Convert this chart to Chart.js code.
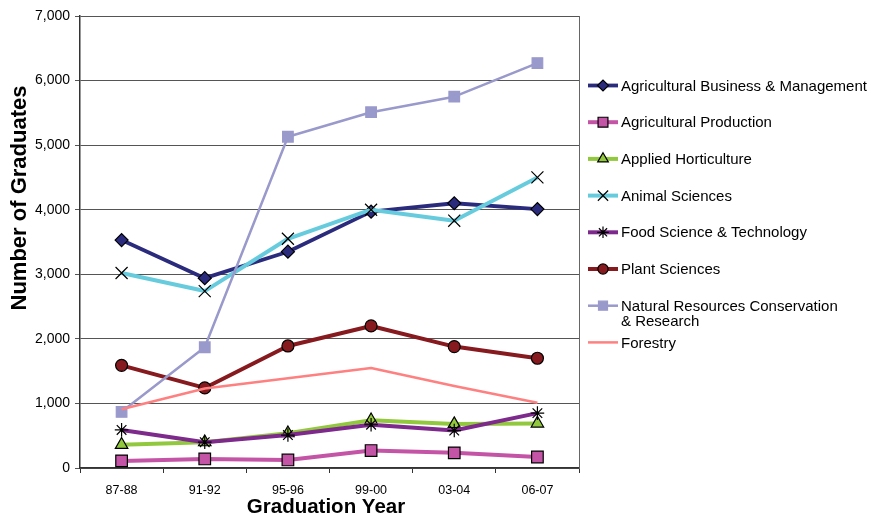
<!DOCTYPE html>
<html>
<head>
<meta charset="utf-8">
<script src="https://cdn.jsdelivr.net/npm/chart.js@4.4.1/dist/chart.umd.min.js"></script>
<style>
  html, body { margin: 0; padding: 0; background: #ffffff; }
  #wrap { width: 874px; height: 515px; }
</style>
</head>
<body>
<div id="wrap"><canvas id="c" width="874" height="515"></canvas></div>
<script>
// Graduates by program, per graduation year
const years = ['87-88', '91-92', '95-96', '99-00', '03-04', '06-07'];

const agBusiness     = [3530, 2940, 3350, 3970, 4100, 4010];
const agProduction   = [110, 140, 125, 270, 235, 170];
const horticulture   = [360, 400, 540, 740, 680, 690];
const animalSciences = [3020, 2740, 3550, 4000, 3830, 4500];
const foodScience    = [590, 400, 510, 670, 580, 850];
const plantSciences  = [1590, 1240, 1890, 2200, 1880, 1700];
const naturalRes     = [870, 1870, 5130, 5510, 5750, 6270];
const forestry       = [910, 1230, 1390, 1550, 1270, 1010];

const seriesNames = [
  ['Agricultural Business & Management'],
  ['Agricultural Production'],
  ['Applied Horticulture'],
  ['Animal Sciences'],
  ['Food Science & Technology'],
  ['Plant Sciences'],
  ['Natural Resources Conservation', '& Research'],
  ['Forestry']
];

const yTicks = [0, 1000, 2000, 3000, 4000, 5000, 6000, 7000];

const FONT = '"Liberation Sans", Arial, Helvetica, sans-serif';

function series(i, data, color, style, radius, fill, border, width) {
  return {
    label: seriesNames[i].join(' '),
    data: data,
    borderColor: color,
    backgroundColor: color,
    borderWidth: width,
    borderJoinStyle: 'round',
    tension: 0,
    pointStyle: style,
    pointRadius: radius,
    pointBackgroundColor: fill,
    pointBorderColor: border,
    pointBorderWidth: 1.2,
    order: 10 - i
  };
}

const datasets = [
  series(0, agBusiness,     '#2b2b7e', 'rectRot',  6.5, '#2b2b7e', '#000000', 3.8),
  series(1, agProduction,   '#c455a6', 'rect',     8.2, '#c455a6', '#000000', 4),
  series(2, horticulture,   '#92c83e', 'triangle', 7.2, '#92c83e', '#000000', 4),
  series(3, animalSciences, '#66ccdd', 'crossRot', 8.5, '#000000', '#000000', 4),
  series(4, foodScience,    '#7d2a8c', 'star',     6.8, '#000000', '#000000', 4),
  series(5, plantSciences,  '#861a1e', 'circle',   6,   '#861a1e', '#000000', 4),
  series(6, naturalRes,     '#9999cc', 'rect',     7.5, '#9999cc', '#9999cc', 2.5),
  series(7, forestry,       '#ff8080', 'line',     0,   '#ff8080', '#ff8080', 2.5)
];

// Axis titles, plot frame and the series key beside the plot
const decorations = {
  id: 'decorations',
  afterDraw(chart) {
    const ctx = chart.ctx;
    const area = chart.chartArea;
    ctx.save();

    // right edge of the plot frame
    ctx.strokeStyle = '#666666';
    ctx.lineWidth = 1;
    ctx.beginPath();
    ctx.moveTo(Math.round(area.right) + 0.5, area.top);
    ctx.lineTo(Math.round(area.right) + 0.5, area.bottom);
    ctx.stroke();

    // axis titles
    ctx.fillStyle = '#000000';
    ctx.textAlign = 'center';
    ctx.textBaseline = 'middle';
    ctx.font = 'bold 20.5px ' + FONT;
    ctx.fillText('Graduation Year', 326, 507);
    ctx.save();
    ctx.translate(20, 198);
    ctx.rotate(-Math.PI / 2);
    ctx.font = 'bold 22px ' + FONT;
    ctx.fillText('Number of Graduates', 0, 0);
    ctx.restore();

    // series key
    const x0 = 588, x1 = 618, tx = 621;
    chart.data.datasets.forEach((ds, i) => {
      const y = 85.5 + i * 36.7;
      ctx.strokeStyle = ds.borderColor;
      ctx.lineWidth = ds.borderWidth;
      ctx.lineCap = 'butt';
      ctx.beginPath();
      ctx.moveTo(x0, y);
      ctx.lineTo(x1, y);
      ctx.stroke();
      if (ds.pointRadius > 0) {
        ctx.fillStyle = ds.pointBackgroundColor;
        ctx.strokeStyle = ds.pointBorderColor;
        ctx.lineWidth = ds.pointBorderWidth;
        Chart.helpers.drawPoint(ctx, {
          pointStyle: ds.pointStyle,
          radius: ds.pointRadius * 0.85,
          borderWidth: ds.pointBorderWidth,
          rotation: 0
        }, (x0 + x1) / 2, y);
      }
      ctx.fillStyle = '#000000';
      ctx.textAlign = 'left';
      ctx.textBaseline = 'middle';
      ctx.font = '15px ' + FONT;
      seriesNames[i].forEach((line, k) => {
        ctx.fillText(line, tx, y + 1 + k * 14.7);
      });
    });
    ctx.restore();
  }
};

new Chart(document.getElementById('c'), {
  type: 'line',
  data: { labels: years, datasets: datasets },
  options: {
    responsive: false,
    animation: false,
    events: [],
    layout: { padding: { left: 0, top: 16, right: 295, bottom: 0 } },
    plugins: {
      legend: { display: false },
      tooltip: { enabled: false },
      title: { display: false }
    },
    scales: {
      x: {
        type: 'category',
        offset: true,
        afterFit(scale) { scale.height = 47; },
        grid: {
          offset: true,
          drawOnChartArea: false,
          drawTicks: true,
          tickLength: 5,
          color: '#333333',
          lineWidth: 1
        },
        border: { display: true, color: '#333333', width: 1.5 },
        ticks: {
          color: '#000000',
          font: { family: FONT, size: 12.5 },
          padding: 10,
          maxRotation: 0
        }
      },
      y: {
        min: 0,
        max: 7000,
        afterFit(scale) { scale.width = 80; },
        afterBuildTicks(scale) { scale.ticks = yTicks.map(v => ({ value: v })); },
        grid: {
          color: '#555555',
          lineWidth: 1,
          drawTicks: true,
          tickLength: 5
        },
        border: { display: true, color: '#333333', width: 1.5 },
        ticks: {
          color: '#000000',
          font: { family: FONT, size: 14 },
          padding: 5,
          callback: v => Number(v).toLocaleString('en-US')
        }
      }
    }
  },
  plugins: [decorations]
});
</script>
</body>
</html>
